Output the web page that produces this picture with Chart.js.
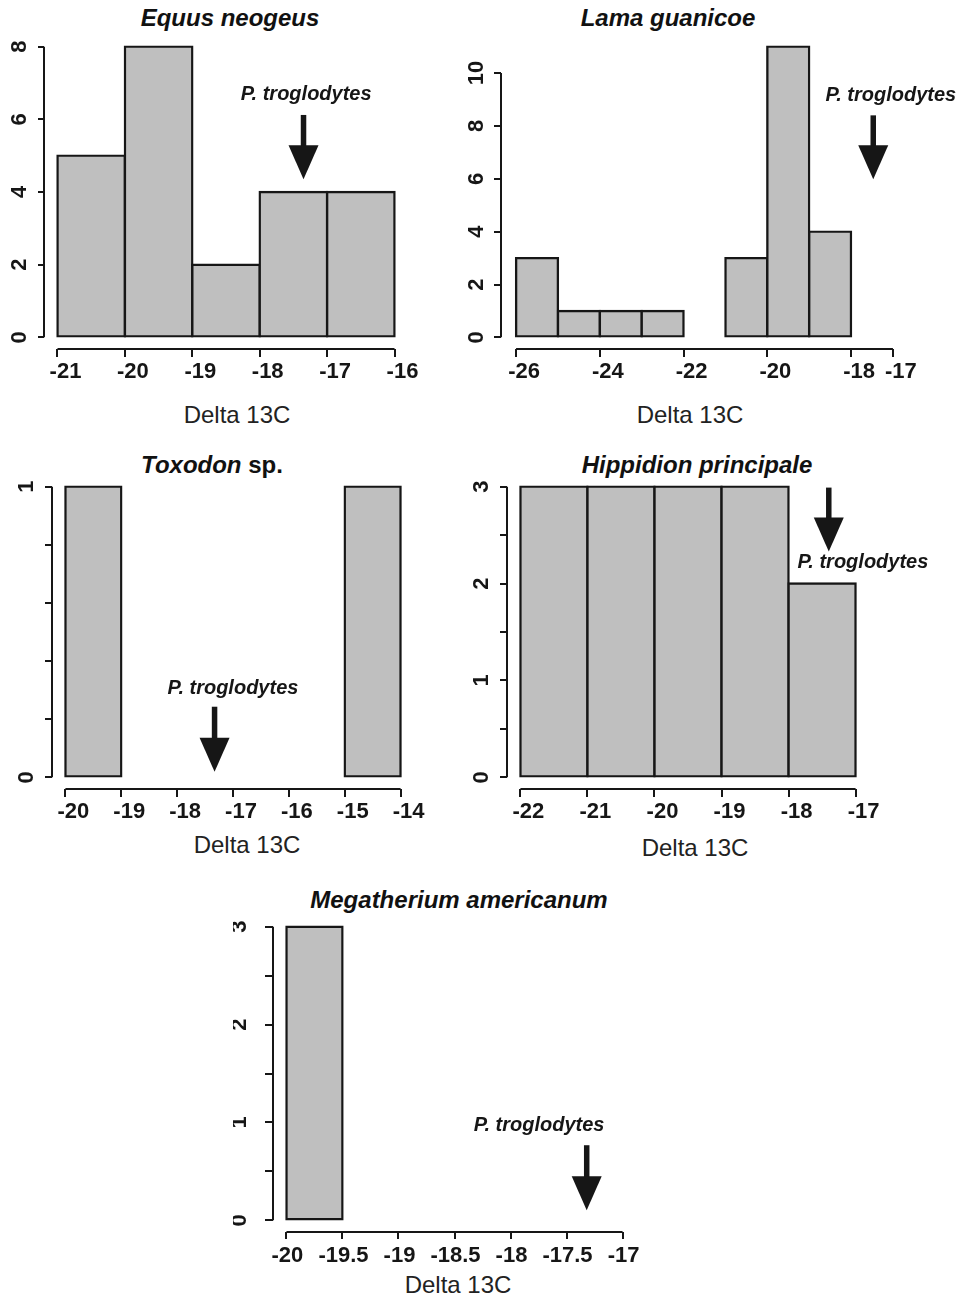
<!DOCTYPE html>
<html>
<head>
<meta charset="utf-8">
<title>Delta 13C histograms</title>
<script src="https://cdn.jsdelivr.net/npm/chart.js@4.4.1/dist/chart.umd.min.js"></script>
<style>
  html, body { margin: 0; padding: 0; background: #fff; }
  #page { position: relative; width: 958px; height: 1296px; overflow: hidden; }
  #page canvas { position: absolute; left: 0; top: 0; }
  .ttl {
    position: absolute; width: 400px; text-align: center; white-space: nowrap;
    font: italic bold 24px "Liberation Sans", Arial, sans-serif; line-height: 28px; color: #111;
  }
  .ttl span { font-style: normal; }
  .xlab {
    position: absolute; width: 300px; text-align: center; white-space: nowrap;
    font: 24px "Liberation Sans", Arial, sans-serif; line-height: 28px; color: #222;
  }
</style>
</head>
<body>
<div id="page">
  <div class="ttl" style="left:30px;top:4px">Equus neogeus</div>
  <div class="ttl" style="left:468px;top:4px">Lama guanicoe</div>
  <div class="ttl" style="left:12px;top:451px">Toxodon <span>sp.</span></div>
  <div class="ttl" style="left:497px;top:451px">Hippidion principale</div>
  <div class="ttl" style="left:259px;top:886px">Megatherium americanum</div>

  <div class="xlab" style="left:87px;top:401px">Delta 13C</div>
  <div class="xlab" style="left:540px;top:401px">Delta 13C</div>
  <div class="xlab" style="left:97px;top:831px">Delta 13C</div>
  <div class="xlab" style="left:545px;top:834px">Delta 13C</div>
  <div class="xlab" style="left:308px;top:1271px">Delta 13C</div>
</div>
<script>
const INK = "#161616";
const BAR_FILL = "#bfbfbf";
const FONT = '"Liberation Sans", Arial, sans-serif';
const NOTE = "P. troglodytes";

// Equus neogeus
const equusBins = [-21, -20, -19, -18, -17];       // lower bin edges
const equusCounts = [5, 8, 2, 4, 4];
const equusXTicks = [-21, -20, -19, -18, -17, -16];
const equusYTicks = [0, 2, 4, 6, 8];
const equusArrow = { x: -17.35, top: 6.12, tip: 4.35, labelX: -17.31, labelY: 6.67 };

// Lama guanicoe
const lamaBins = [-26, -25, -24, -23, -22, -21, -20, -19];
const lamaCounts = [3, 1, 1, 1, 0, 3, 11, 4];
const lamaXTicks = [-26, -24, -22, -20, -18, -17];
const lamaYTicks = [0, 2, 4, 6, 8, 10];
const lamaArrow = { x: -17.47, top: 8.4, tip: 5.98, labelX: -17.05, labelY: 9.16 };

// Toxodon sp.
const toxoBins = [-20, -15];
const toxoCounts = [1, 1];
const toxoXTicks = [-20, -19, -18, -17, -16, -15, -14];
const toxoYTicks = [0, 0.2, 0.4, 0.6, 0.8, 1];
const toxoYLabels = [0, 1];
const toxoArrow = { x: -17.33, top: 0.243, tip: 0.019, labelX: -17.0, labelY: 0.306 };

// Hippidion principale
const hippBins = [-22, -21, -20, -19, -18];
const hippCounts = [3, 3, 3, 3, 2];
const hippXTicks = [-22, -21, -20, -19, -18, -17];
const hippYTicks = [0, 0.5, 1, 1.5, 2, 2.5, 3];
const hippYLabels = [0, 1, 2, 3];
const hippArrow = { x: -17.4, top: 2.99, tip: 2.33, labelX: -16.89, labelY: 2.215 };

// Megatherium americanum
const megaBins = [-20];
const megaCounts = [3];
const megaXTicks = [-20, -19.5, -19, -18.5, -18, -17.5, -17];
const megaYTicks = [0, 0.5, 1, 1.5, 2, 2.5, 3];
const megaYLabels = [0, 1, 2, 3];
const megaArrow = { x: -17.32, top: 0.767, tip: 0.102, labelX: -17.745, labelY: 0.97 };

// area = [left, top, right, bottom] of each plot region on the page
const panels = [
  { bins: equusBins, counts: equusCounts, binWidth: 1, xlim: [-21, -16], ylim: [0, 8],
    xTicks: equusXTicks, yTicks: equusYTicks, yLabels: equusYTicks, arrow: equusArrow,
    area: [44, 35, 408, 349], yTickLen: 6, yPad: 12, xTickLen: 8, xPad: 2, xShift: 8 },
  { bins: lamaBins, counts: lamaCounts, binWidth: 1, xlim: [-26, -17], ylim: [0, 11],
    xTicks: lamaXTicks, yTicks: lamaYTicks, yLabels: lamaYTicks, arrow: lamaArrow,
    area: [501, 35, 908, 349], yTickLen: 7, yPad: 5, xTickLen: 8, xPad: 2, xShift: 8 },
  { bins: toxoBins, counts: toxoCounts, binWidth: 1, xlim: [-20, -14], ylim: [0, 1],
    xTicks: toxoXTicks, yTicks: toxoYTicks, yLabels: toxoYLabels, arrow: toxoArrow,
    area: [52, 475, 414, 789], yTickLen: 7, yPad: 12, xTickLen: 8, xPad: 2, xShift: 8 },
  { bins: hippBins, counts: hippCounts, binWidth: 1, xlim: [-22, -17], ylim: [0, 3],
    xTicks: hippXTicks, yTicks: hippYTicks, yLabels: hippYLabels, arrow: hippArrow,
    area: [507, 475, 869, 789], yTickLen: 7, yPad: 12, xTickLen: 8, xPad: 2, xShift: 8 },
  { bins: megaBins, counts: megaCounts, binWidth: 0.5, xlim: [-20, -17], ylim: [0, 3],
    xTicks: megaXTicks, yTicks: megaYTicks, yLabels: megaYLabels, arrow: megaArrow,
    area: [273, 915, 636, 1232], yTickLen: 8, yPad: 19, xTickLen: 7, xPad: 4, xShift: 1 },
];

const PAGE_W = 958, PAGE_H = 1296, AXIS_W = 40, AXIS_H = 40;

// R extends the plotting range by 4% on each side
const extend = (lim) => {
  const d = (lim[1] - lim[0]) * 0.04;
  return [lim[0] - d, lim[1] + d];
};

// axis lines only run from the first to the last tick, like base R graphics
const rAxes = {
  id: "rAxes",
  afterDraw(chart) {
    const { ctx, chartArea, scales: { x, y } } = chart;
    const xt = x.ticks, yt = y.ticks;
    ctx.save();
    ctx.strokeStyle = INK;
    ctx.lineWidth = 2;
    ctx.beginPath();
    ctx.moveTo(x.getPixelForValue(xt[0].value), chartArea.bottom);
    ctx.lineTo(x.getPixelForValue(xt[xt.length - 1].value), chartArea.bottom);
    ctx.moveTo(chartArea.left, y.getPixelForValue(yt[0].value));
    ctx.lineTo(chartArea.left, y.getPixelForValue(yt[yt.length - 1].value));
    ctx.stroke();
    ctx.restore();
  },
};

function arrowNote(a) {
  return {
    id: "arrowNote",
    afterDraw(chart) {
      const { ctx, scales: { x, y } } = chart;
      const px = x.getPixelForValue(a.x);
      const top = y.getPixelForValue(a.top);
      const tip = y.getPixelForValue(a.tip);
      const head = 34, half = 15;
      ctx.save();
      ctx.fillStyle = INK;
      ctx.strokeStyle = INK;
      ctx.lineWidth = 5.5;
      ctx.beginPath();
      ctx.moveTo(px, top);
      ctx.lineTo(px, tip - head + 2);
      ctx.stroke();
      ctx.beginPath();
      ctx.moveTo(px - half, tip - head);
      ctx.lineTo(px + half, tip - head);
      ctx.lineTo(px, tip);
      ctx.closePath();
      ctx.fill();
      ctx.font = `italic bold 20px ${FONT}`;
      ctx.textAlign = "center";
      ctx.textBaseline = "middle";
      ctx.fillText(NOTE, x.getPixelForValue(a.labelX), y.getPixelForValue(a.labelY));
      ctx.restore();
    },
  };
}

const page = document.getElementById("page");
const tickFont = { family: FONT, size: 22, weight: "bold" };

panels.forEach((p) => {
  const canvas = document.createElement("canvas");
  canvas.width = PAGE_W;
  canvas.height = PAGE_H;
  page.appendChild(canvas);

  const [L, T, R, B] = p.area;
  const [xmin, xmax] = extend(p.xlim);
  const [ymin, ymax] = extend(p.ylim);

  new Chart(canvas, {
    type: "bar",
    data: {
      datasets: [{
        data: p.bins.map((lo, k) => ({ x: lo + p.binWidth / 2, y: p.counts[k] })),
        backgroundColor: BAR_FILL,
        borderColor: INK,
        borderWidth: 2.4,
        borderSkipped: false,
        inflateAmount: 1.2,
        barPercentage: 1,
        categoryPercentage: 1,
      }],
    },
    options: {
      responsive: false,
      animation: false,
      devicePixelRatio: 1,
      events: [],
      layout: { padding: { left: L - AXIS_W, top: T, right: PAGE_W - R, bottom: PAGE_H - B - AXIS_H } },
      plugins: { legend: { display: false }, tooltip: { enabled: false } },
      scales: {
        x: {
          type: "linear", min: xmin, max: xmax, offset: false,
          afterBuildTicks: (ax) => { ax.ticks = p.xTicks.map((v) => ({ value: v })); },
          afterFit: (ax) => { ax.height = AXIS_H; },
          grid: { drawOnChartArea: false, drawTicks: true, tickLength: p.xTickLen, color: INK, lineWidth: 2, offset: false },
          border: { display: false },
          ticks: {
            autoSkip: false, minRotation: 0, maxRotation: 0, font: tickFont, color: INK,
            padding: p.xPad, labelOffset: p.xShift, callback: (v) => String(v),
          },
        },
        y: {
          type: "linear", min: ymin, max: ymax,
          afterBuildTicks: (ax) => { ax.ticks = p.yTicks.map((v) => ({ value: v })); },
          afterFit: (ax) => { ax.width = AXIS_W; },
          grid: { drawOnChartArea: false, drawTicks: true, tickLength: p.yTickLen, color: INK, lineWidth: 2 },
          border: { display: false },
          ticks: {
            autoSkip: false, minRotation: 90, maxRotation: 90, crossAlign: "center",
            font: tickFont, color: INK, padding: p.yPad,
            callback: (v) => (p.yLabels.includes(v) ? String(v) : ""),
          },
        },
      },
    },
    plugins: [rAxes, arrowNote(p.arrow)],
  });
});
</script>
</body>
</html>
